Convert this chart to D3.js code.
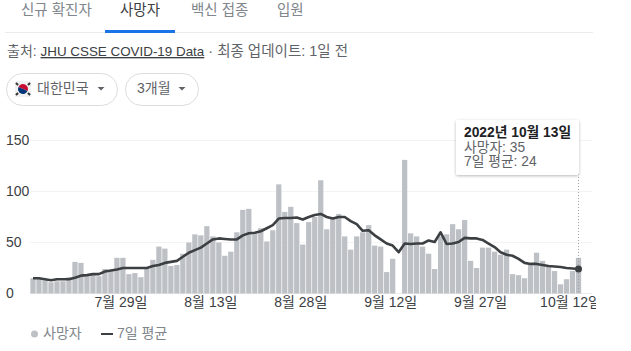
<!DOCTYPE html>
<html>
<head>
<meta charset="utf-8">
<script src="https://cdn.jsdelivr.net/npm/d3@7"></script>
<style>
  html, body { margin: 0; padding: 0; background: #fff; }
  text { font-family: "Liberation Sans", "Noto Sans CJK KR", sans-serif; }
</style>
</head>
<body>
<div id="chart"></div>
<script>
// Daily deaths, 14 Jul - 13 Oct 2022
const deaths = [15, 15, 13, 11, 12, 12, 16, 31, 30, 17, 18, 17, 24, 23, 35, 35, 19, 20, 16, 24,
  33, 46, 44, 27, 28, 39, 50, 58, 57, 66, 56, 50, 37, 41, 60, 82, 83, 60, 64, 51,
  62, 107, 80, 85, 69, 48, 70, 75, 111, 63, 73, 78, 56, 43, 56, 60, 67, 47, 46, 21,
  34, 0, 131, 59, 56, 46, 39, 24, 56, 58, 68, 63, 72, 32, 25, 45, 45, 41, 38, 43,
  19, 18, 15, 28, 40, 32, 27, 22, 9, 14, 22, 35];
const average = [15, 15, 14, 13, 14, 14, 14, 15.5, 17.5, 18, 19, 19, 21.5, 22.5, 23.5, 25, 25, 25, 25, 25,
  27, 28, 30, 31, 32, 36, 40, 42.5, 45, 49, 53, 54, 53.5, 53, 53, 57, 59, 59.5, 61, 64,
  67, 73.5, 74, 74, 74.5, 72.5, 75, 77, 78, 75, 73.5, 75, 75, 71, 68, 61.5, 62, 57, 53, 49,
  47, 40.5, 49, 48.5, 49, 49, 52, 50.5, 60, 48.5, 49, 50.5, 54.5, 54, 54, 52.5, 49, 45.5, 40.5, 38,
  37, 34, 30, 29, 29, 28, 27, 26.5, 26, 25, 24.5, 24];
const days = d3.timeDay.range(new Date(2022, 6, 14), new Date(2022, 9, 14));
const xTicks = [new Date(2022, 6, 29), new Date(2022, 7, 13), new Date(2022, 7, 28),
  new Date(2022, 8, 12), new Date(2022, 8, 27), new Date(2022, 9, 12)];
const yTicks = [0, 50, 100, 150];
const tabs = ["신규 확진자", "사망자", "백신 접종", "입원"];

const svg = d3.select("#chart").append("svg")
  .attr("width", 631)
  .attr("height", 351)
  .style("display", "block");

// Tabs
const tabX = [21, 120, 191, 277];
svg.selectAll(".tab")
  .data(tabs)
  .enter().append("text")
  .attr("class", "tab")
  .attr("x", (d, i) => tabX[i])
  .attr("y", 15)
  .attr("font-size", 14.5)
  .attr("fill", (d, i) => i === 1 ? "#3c4043" : "#80868b")
  .text(d => d);
svg.append("rect").attr("x", 5).attr("y", 32).attr("width", 588).attr("height", 1).attr("fill", "#ebebeb");
svg.append("rect").attr("x", 105).attr("y", 30).attr("width", 70).attr("height", 3).attr("fill", "#1a73e8");

// Source line
const source = svg.append("text").attr("x", 7).attr("y", 56).attr("font-size", 14).attr("fill", "#5f6368");
source.append("tspan").text("출처: ");
source.append("tspan").attr("font-size", 13.4).attr("text-decoration", "underline").attr("fill", "#3c4043").text("JHU CSSE COVID-19 Data");
source.append("tspan").attr("font-size", 14.5).text(" · 최종 업데이트: 1일 전");

// Dropdown chips
function chip(x, w, label, textX) {
  svg.append("rect").attr("x", x + 0.5).attr("y", 73.5).attr("width", w).attr("height", 32).attr("rx", 16)
    .attr("fill", "#fff").attr("stroke", "#dadce0");
  svg.append("text").attr("x", textX).attr("y", 93).attr("font-size", 14).attr("fill", "#5f6368").text(label);
  const ax = x + w - 16;
  svg.append("path").attr("d", `M${ax - 3.5},87 h7 l-3.5,3.5 z`).attr("fill", "#5f6368");
}
chip(6, 111, "대한민국", 37);
chip(125, 73, "3개월", 137);

// Flag
const flag = svg.append("g").attr("transform", "translate(23,89)");
flag.append("rect").attr("x", -8).attr("y", -8).attr("width", 16).attr("height", 16).attr("fill", "#f1f1f1");
flag.append("path").attr("d", "M-5,0 A5,5 0 0 1 5,0 Z").attr("fill", "#c60c30").attr("transform", "rotate(25)");
flag.append("path").attr("d", "M-5,0 A5,5 0 0 0 5,0 Z").attr("fill", "#003478").attr("transform", "rotate(25)");
[[-6, -5], [6, -5], [-6, 5], [6, 5]].forEach(p => {
  flag.append("rect").attr("x", p[0] - 1.5).attr("y", p[1] - 1).attr("width", 3).attr("height", 2)
    .attr("fill", "#333").attr("transform", `rotate(${p[0] * p[1] > 0 ? 45 : -45} ${p[0]} ${p[1]})`);
});

// Scales
const x = d3.scaleBand().domain(days).range([30, 581.5]).paddingInner(0.12).paddingOuter(0.06);
const y = d3.scaleLinear().domain([0, 150]).range([293.5, 140.5]);
const cx = d => x(d) + x.bandwidth() / 2;

// Grid
svg.append("g").selectAll("line")
  .data(yTicks.slice(1))
  .enter().append("line")
  .attr("x1", 30).attr("x2", 592)
  .attr("y1", d => y(d)).attr("y2", d => y(d))
  .attr("stroke", "#f3f3f3");
svg.append("line").attr("x1", 30).attr("x2", 592).attr("y1", y(0)).attr("y2", y(0)).attr("stroke", "#ebebeb");

// Bars
svg.append("g").selectAll("rect")
  .data(deaths)
  .enter().append("rect")
  .attr("x", (d, i) => x(days[i]))
  .attr("y", d => y(d))
  .attr("width", x.bandwidth())
  .attr("height", d => y(0) - y(d))
  .attr("fill", "#bdc1c6");

// Axes
const yAxis = svg.append("g")
  .attr("transform", "translate(30,0)")
  .call(d3.axisLeft(y).tickValues(yTicks).tickSize(0).tickPadding(0));
yAxis.select(".domain").remove();
yAxis.selectAll("text")
  .attr("x", -24)
  .attr("text-anchor", "start")
  .attr("font-size", 14)
  .attr("fill", "#3c4043")
  .style("font-family", "'Liberation Sans', sans-serif");

svg.append("clipPath").attr("id", "xclip")
  .append("rect").attr("x", 0).attr("y", 290).attr("width", 596).attr("height", 30);
const xAxis = svg.append("g")
  .attr("clip-path", "url(#xclip)")
  .append("g")
  .attr("transform", "translate(-2,295)")
  .call(d3.axisBottom(x).tickValues(xTicks).tickSize(0).tickPadding(2)
    .tickFormat(d => `${d.getMonth() + 1}월 ${d.getDate()}일`));
xAxis.select(".domain").remove();
xAxis.selectAll("text")
  .attr("font-size", 14)
  .attr("fill", "#3c4043")
  .style("font-family", "'Liberation Sans', 'Noto Sans CJK KR', sans-serif");

// Hover guide
const lastDay = days[days.length - 1];
svg.append("line")
  .attr("x1", cx(lastDay)).attr("x2", cx(lastDay))
  .attr("y1", 174).attr("y2", y(0))
  .attr("stroke", "#9aa0a6").attr("stroke-dasharray", "1,2");

// 7 day average
const line = d3.line().x((d, i) => cx(days[i])).y(d => y(d));
svg.append("path")
  .datum(average)
  .attr("d", line)
  .attr("fill", "none")
  .attr("stroke", "#3c4043")
  .attr("stroke-width", 2.6)
  .attr("stroke-linejoin", "round");
svg.append("circle")
  .attr("cx", cx(lastDay))
  .attr("cy", y(average[average.length - 1]))
  .attr("r", 3.5)
  .attr("fill", "#3c4043");

// Tooltip
const defs = svg.append("defs");
const blur = defs.append("filter").attr("id", "shadow").attr("x", "-10%").attr("y", "-10%").attr("width", "120%").attr("height", "130%");
blur.append("feDropShadow").attr("dx", 0).attr("dy", 1).attr("stdDeviation", 1.5).attr("flood-color", "#000").attr("flood-opacity", 0.28);
svg.append("rect").attr("x", 456).attr("y", 120).attr("width", 123).attr("height", 55).attr("rx", 2)
  .attr("fill", "#fff").attr("filter", "url(#shadow)");
svg.append("text").attr("x", 464).attr("y", 137).attr("font-size", 13.8).attr("font-weight", "bold").attr("fill", "#202124").text("2022년 10월 13일");
svg.append("text").attr("x", 464).attr("y", 152).attr("font-size", 13.8).attr("fill", "#5f6368").text("사망자: 35");
svg.append("text").attr("x", 464).attr("y", 166).attr("font-size", 13.8).attr("fill", "#5f6368").text("7일 평균: 24");

// Legend
svg.append("circle").attr("cx", 34.5).attr("cy", 334).attr("r", 3.5).attr("fill", "#bdc1c6");
svg.append("text").attr("x", 43).attr("y", 338).attr("font-size", 14).attr("fill", "#80868b").text("사망자");
svg.append("line").attr("x1", 101).attr("x2", 113).attr("y1", 334).attr("y2", 334).attr("stroke", "#3c4043").attr("stroke-width", 2);
svg.append("text").attr("x", 117).attr("y", 338).attr("font-size", 14).attr("fill", "#80868b").text("7일 평균");
</script>
</body>
</html>
